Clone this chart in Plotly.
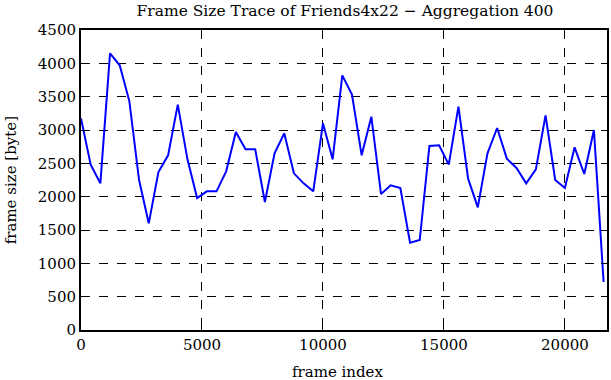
import plotly.graph_objects as go

frame_index = list(range(0, 21601, 400))
frame_size = [3175, 2480, 2200, 4150, 3970, 3430, 2250, 1600, 2370, 2620,
              3380, 2560, 1980, 2080, 2080, 2380, 2970, 2710, 2710, 1920,
              2650, 2950, 2350, 2200, 2080, 3100, 2560, 3820, 3530, 2620,
              3200, 2040, 2170, 2130, 1310, 1350, 2760, 2770, 2480, 3350,
              2270, 1840, 2650, 3030, 2570, 2430, 2200, 2410, 3220, 2250,
              2130, 2740, 2340, 3000, 720]
x_ticks = [0, 5000, 10000, 15000, 20000]
y_ticks = list(range(0, 4501, 500))

fig = go.Figure()
fig.add_trace(go.Scatter(x=frame_index, y=frame_size, mode="lines",
                         line=dict(color="#0000ff", width=2)))

fam = "DejaVu Serif, Liberation Serif, serif"
font = dict(family=fam, size=15, color="black")
axis_common = dict(showline=True, linecolor="black", linewidth=2, mirror="ticks",
                   ticks="inside", ticklen=6, tickcolor="black", tickwidth=1,
                   showgrid=True, gridcolor="black", gridwidth=1, griddash="dash",
                   zeroline=False, tickfont=font, tickformat="d")
L, R, T, B = 81, 2, 30, 50
pw, ph = 611 - L - R, 380 - T - B
fig.update_layout(
    width=611, height=380,
    margin=dict(l=L, r=R, t=T, b=B),
    paper_bgcolor="white", plot_bgcolor="white",
    showlegend=False,
    font=font,
    title=dict(text="Frame Size Trace of Friends4x22 − Aggregation 400",
               x=345 / 611, xanchor="center",
               y=1 - 11 / 380, yanchor="middle", font=dict(size=15.5, family=fam, color="black")),
    xaxis=dict(range=[0, 21740], tickvals=x_ticks, **axis_common),
    yaxis=dict(range=[0, 4500], tickvals=y_ticks, **axis_common),
    annotations=[
        dict(text="frame index", xref="paper", yref="paper",
             x=(338 - L) / pw, y=-(372 - (380 - B)) / ph, xanchor="center", yanchor="middle",
             showarrow=False, font=font),
        dict(text="frame size [byte]", xref="paper", yref="paper", textangle=-90,
             x=-(L - 11) / pw, y=0.5, xanchor="center", yanchor="middle",
             showarrow=False, font=font),
    ],
)
fig.write_html("out.html", config={"displayModeBar": False},
               post_script="document.body.style.margin='0';document.body.style.padding='0';")
